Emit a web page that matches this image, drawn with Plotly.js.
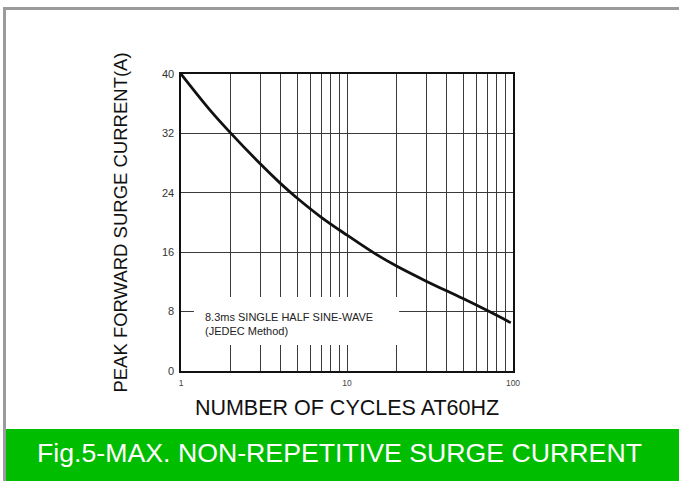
<!DOCTYPE html>
<html>
<head>
<meta charset="utf-8">
<script src="https://cdn.plot.ly/plotly-3.0.1.min.js"></script>
<style>
  html, body { margin: 0; padding: 0; background: #ffffff; }
  #chart { width: 679px; height: 481px; }
</style>
</head>
<body>
<div id="chart"></div>
<script>
// Number of cycles at 60 Hz (x) and peak forward surge current in A (y)
const cycles = [1, 1.5, 2, 3, 4, 5, 7, 10, 15, 20, 30, 50, 72, 97];
const surgeCurrent = [40, 35.1, 32, 27.9, 25.2, 23.3, 20.7, 18.3, 15.7, 14.1, 12.1, 9.75, 8.0, 6.5];
const yTicks = [0, 8, 16, 24, 32, 40];
const xTickVals = [1, 10, 100];
const xTickText = ['1', '10', '100'];

const FONT = 'Liberation Sans, Arial, Helvetica, sans-serif';

const trace = {
  x: cycles,
  y: surgeCurrent,
  type: 'scatter',
  mode: 'lines',
  line: { color: '#111111', width: 2.8, shape: 'spline', smoothing: 1 },
  hoverinfo: 'x+y'
};

const layout = {
  width: 679,
  height: 481,
  margin: { l: 181, r: 166, t: 74, b: 110 },
  paper_bgcolor: '#ffffff',
  plot_bgcolor: '#ffffff',
  showlegend: false,
  font: { family: FONT, color: '#222222' },
  xaxis: {
    type: 'log',
    range: [0, 2],
    tickvals: xTickVals,
    ticktext: xTickText,
    ticks: '',
    showgrid: true,
    gridcolor: '#3a3a3a',
    gridwidth: 1,
    minor: { dtick: 'D1', showgrid: true, gridcolor: '#3a3a3a', gridwidth: 1, ticks: '' },
    showline: true,
    linecolor: '#111111',
    linewidth: 1.6,
    mirror: true,
    zeroline: false,
    tickfont: { family: FONT, size: 8.5, color: '#444444' },
    ticklabelstandoff: 3,
    title: {
      text: 'NUMBER OF CYCLES AT60HZ',
      font: { family: FONT, size: 21.5, color: '#111111' },
      standoff: 13
    },
    automargin: false,
    fixedrange: true
  },
  yaxis: {
    range: [0, 40],
    tickvals: yTicks,
    ticks: '',
    showgrid: true,
    gridcolor: '#3a3a3a',
    gridwidth: 1,
    showline: true,
    linecolor: '#111111',
    linewidth: 1.6,
    mirror: true,
    zeroline: false,
    tickfont: { family: FONT, size: 11, color: '#333333' },
    ticklabelstandoff: 3,
    title: {
      text: 'PEAK FORWARD SURGE CURRENT(A)',
      font: { family: FONT, size: 18.5, color: '#111111' },
      standoff: 29
    },
    automargin: false,
    fixedrange: true
  },
  shapes: [
    // white box behind the note (interrupts the grid)
    { type: 'rect', xref: 'paper', yref: 'paper', x0: 0.039, x1: 0.657, y0: 0.0875, y1: 0.249,
      fillcolor: '#ffffff', line: { width: 0 }, layer: 'above' },
    // green caption band
    { type: 'rect', xref: 'paper', yref: 'paper', x0: -0.533, x1: 1.51, y0: -0.38, y1: -0.1953,
      fillcolor: '#00bd00', line: { width: 0 }, layer: 'above' },
    // grey frame: left edge
    { type: 'rect', xref: 'paper', yref: 'paper', x0: -0.5361, x1: -0.5271, y0: -0.38, y1: 1.2256,
      fillcolor: '#9b9b9b', line: { width: 0 }, layer: 'above' },
    // grey frame: top edge
    { type: 'rect', xref: 'paper', yref: 'paper', x0: -0.5361, x1: 1.51, y0: 1.2155, y1: 1.2256,
      fillcolor: '#9b9b9b', line: { width: 0 }, layer: 'above' }
  ],
  annotations: [
    { xref: 'paper', yref: 'paper', x: 0.066, y: 0.158, xanchor: 'left', yanchor: 'middle',
      align: 'left', showarrow: false,
      text: '8.3ms SINGLE HALF SINE-WAVE<br>(JEDEC Method)',
      font: { family: FONT, size: 11, color: '#222222' } },
    { xref: 'paper', yref: 'paper', x: 0.4774, y: -0.276, xanchor: 'center', yanchor: 'middle',
      showarrow: false,
      text: 'Fig.5-MAX. NON-REPETITIVE SURGE CURRENT',
      font: { family: FONT, size: 26.7, color: '#ffffff' } }
  ]
};

Plotly.newPlot('chart', [trace], layout, { displayModeBar: false, staticPlot: true });
</script>
</body>
</html>
